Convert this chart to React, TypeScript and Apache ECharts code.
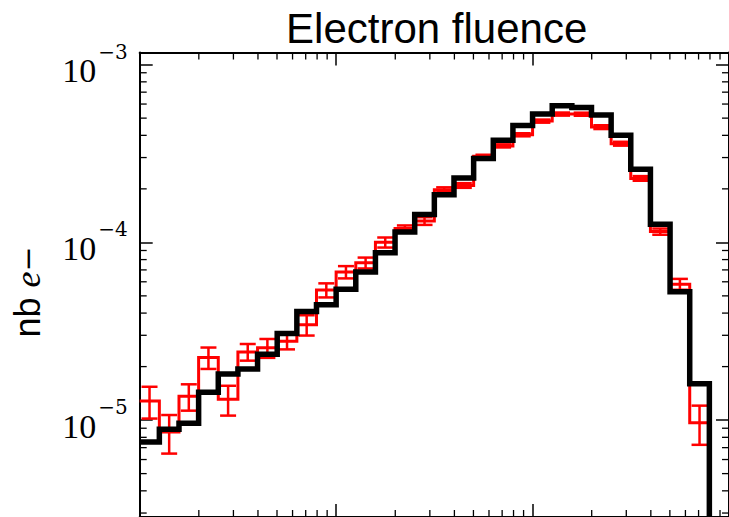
import React, { useEffect, useRef } from 'react';
import * as echarts from 'echarts';

// Logarithmic bin edges (10 bins per decade)
const binEdges = [
  0.01, 0.01259, 0.01585, 0.01995, 0.02512, 0.03162, 0.03981, 0.05012, 0.0631, 0.07943,
  0.1, 0.1259, 0.1585, 0.1995, 0.2512, 0.3162, 0.3981, 0.5012, 0.631, 0.7943,
  1, 1.259, 1.585, 1.995, 2.512, 3.162, 3.981, 5.012, 6.31, 7.943,
];

// Black histogram (simulation)
const blackValues = [
  7.52e-6, 8.87e-6, 9.59e-6, 1.436e-5, 1.816e-5, 1.937e-5, 2.35e-5, 3.07e-5, 4.08e-5, 4.45e-5,
  5.45e-5, 6.81e-5, 8.75e-5, 1.143e-4, 1.436e-4, 1.855e-4, 2.3e-4, 2.96e-4, 3.75e-4, 4.54e-4,
  5.27e-4, 5.86e-4, 5.74e-4, 5.21e-4, 4.0e-4, 2.58e-4, 1.264e-4, 5.27e-5, 1.6e-5,
];

// Red histogram (with statistical errors)
const redValues = [
  1.28e-5, 8.58e-6, 1.36e-5, 2.25e-5, 1.31e-5, 2.42e-5, 2.55e-5, 2.78e-5, 3.44e-5, 5.39e-5,
  6.81e-5, 7.67e-5, 1.0e-4, 1.197e-4, 1.32e-4, 1.98e-4, 2.09e-4, 3.05e-4, 3.49e-4, 4.03e-4,
  4.81e-4, 5.27e-4, 5.26e-4, 4.45e-4, 3.59e-4, 2.29e-4, 1.15e-4, 5.82e-5, 9.66e-6,
];
const redErrors = [
  2.6e-6, 2.1e-6, 2.3e-6, 3.1e-6, 2.5e-6, 2.6e-6, 3.1e-6, 2.8e-6, 4.5e-6, 4.9e-6,
  5.4e-6, 5.4e-6, 6.5e-6, 4.8e-6, 6.6e-6, 6.0e-6, 6.3e-6, 6.1e-6, 7.0e-6, 8.0e-6,
  9.6e-6, 1.05e-5, 1.05e-5, 1.1e-5, 9.0e-6, 6.9e-6, 4.6e-6, 4.1e-6, 2.4e-6,
];

const minorMultipliers = [2, 3, 4, 5, 6, 7, 8, 9];
const xDecades = [0.01, 0.1, 1];
const yDecades = [1e-6, 1e-5, 1e-4, 1e-3];

const X_MIN = 0.01;
const X_MAX = 10;
const Y_MIN = 2.85e-6;
const Y_MAX = 1.17e-3;

const TITLE = 'Electron fluence';

function stepPoints(vals: number[]) {
  const pts: number[][] = [];
  vals.forEach((v, i) => {
    pts.push([binEdges[i], v]);
    pts.push([binEdges[i + 1], v]);
  });
  return pts;
}

export default function App() {
  const ref = useRef<HTMLDivElement>(null);

  useEffect(() => {
    document.body.style.margin = '0';
    if (!ref.current) return;
    const chart = echarts.init(ref.current, null, { renderer: 'svg' });

    const blackPts = stepPoints(blackValues);
    blackPts.push([binEdges[binEdges.length - 1], 1e-8]);
    const redPts = stepPoints(redValues);

    const errData = redValues.map((v, i) => [
      Math.sqrt(binEdges[i] * binEdges[i + 1]),
      v,
      redErrors[i],
    ]);

    const xMinor: number[][] = [];
    xDecades.forEach((d) => minorMultipliers.forEach((m) => {
      const v = d * m;
      if (v > X_MIN && v < X_MAX) xMinor.push([v, Y_MIN]);
    }));
    const yMinor: number[][] = [];
    yDecades.forEach((d) => minorMultipliers.forEach((m) => {
      const v = d * m;
      if (v > Y_MIN && v < Y_MAX) yMinor.push([X_MIN, v]);
    }));

    const axisLine = { show: true, lineStyle: { color: '#000', width: 2 } };
    const axisTick = { show: true, inside: true, length: 13, lineStyle: { color: '#000', width: 1.5 } };

    const labelFmt = (v: number) => {
      const e = Math.round(Math.log10(v));
      return `{b|10}{s|${e < 0 ? '\u2212' : ''}${Math.abs(e)}}`;
    };

    const tickStyle = { stroke: '#000', lineWidth: 1.3 };

    chart.setOption({
      animation: false,
      backgroundColor: '#fff',
      grid: { left: 139.7, top: 52.5, width: 594, height: 471, containLabel: false },
      xAxis: [
        {
          type: 'log', logBase: 10, min: X_MIN, max: X_MAX, position: 'bottom',
          axisLine, axisTick, axisLabel: { show: false }, splitLine: { show: false },
        },
        {
          type: 'log', logBase: 10, min: X_MIN, max: X_MAX, position: 'top',
          axisLine, axisTick, axisLabel: { show: false }, splitLine: { show: false },
        },
      ],
      yAxis: [
        {
          type: 'log', logBase: 10, min: Y_MIN, max: Y_MAX, position: 'left',
          axisLine, axisTick, splitLine: { show: false },
          axisLabel: {
            show: true, margin: 12, showMinLabel: false, showMaxLabel: false,
            formatter: labelFmt,
            rich: {
              b: { fontFamily: 'Liberation Serif', fontSize: 34, color: '#000', lineHeight: 46, verticalAlign: 'bottom' },
              s: { fontFamily: 'DejaVu Serif', fontSize: 20, color: '#000', lineHeight: 32, verticalAlign: 'top', padding: [0, 0, 0, 2] },
            },
          },
        },
        {
          type: 'log', logBase: 10, min: Y_MIN, max: Y_MAX, position: 'right',
          axisLine, axisTick, axisLabel: { show: false }, splitLine: { show: false },
        },
      ],
      graphic: [
        {
          type: 'text', x: 436.7, y: 28, z: 10,
          style: {
            text: TITLE, fill: '#000', font: '42px "Liberation Sans"',
            textAlign: 'center', textVerticalAlign: 'middle',
          },
        },
        {
          type: 'text', x: 27.5, y: 292, rotation: Math.PI / 2, z: 10,
          style: {
            text: '{a|nb }{e|e}{m|\u2212}',
            textAlign: 'center', textVerticalAlign: 'middle',
            rich: {
              a: { fontFamily: 'Liberation Sans', fontSize: 36, fill: '#000' },
              e: { fontFamily: 'Liberation Serif', fontStyle: 'italic', fontSize: 36, fill: '#000' },
              m: { fontFamily: 'DejaVu Serif', fontSize: 30, fill: '#000' },
            },
          },
        },
      ],
      series: [
        {
          type: 'line', data: redPts, symbol: 'none', z: 2, clip: true,
          lineStyle: { color: '#ff0000', width: 3, join: 'miter' },
        },
        {
          type: 'custom', data: errData, z: 3, encode: { x: 0, y: 1 },
          renderItem: (params: any, api: any) => {
            const c = api.value(0);
            const v = api.value(1);
            const e = api.value(2);
            const hi = api.coord([c, v + e]);
            const lo = api.coord([c, v - e]);
            const cap = 8;
            const st = { stroke: '#ff0000', lineWidth: 2.5 };
            return {
              type: 'group',
              children: [
                { type: 'line', shape: { x1: hi[0], y1: hi[1], x2: lo[0], y2: lo[1] }, style: st },
                { type: 'line', shape: { x1: hi[0] - cap, y1: hi[1], x2: hi[0] + cap, y2: hi[1] }, style: st },
                { type: 'line', shape: { x1: lo[0] - cap, y1: lo[1], x2: lo[0] + cap, y2: lo[1] }, style: st },
              ],
            };
          },
        },
        {
          type: 'line', data: blackPts, symbol: 'none', z: 4, clip: true,
          lineStyle: { color: '#000', width: 5.5, join: 'miter' },
        },
        {
          type: 'custom', data: xMinor, z: 5, encode: { x: 0, y: 1 },
          renderItem: (params: any, api: any) => {
            const x = api.coord([api.value(0), Y_MIN])[0];
            const cs = params.coordSys;
            const top = cs.y;
            const bottom = cs.y + cs.height;
            return {
              type: 'group',
              children: [
                { type: 'line', shape: { x1: x, y1: top, x2: x, y2: top + 7 }, style: tickStyle },
                { type: 'line', shape: { x1: x, y1: bottom, x2: x, y2: bottom - 7 }, style: tickStyle },
              ],
            };
          },
        },
        {
          type: 'custom', data: yMinor, z: 5, encode: { x: 0, y: 1 },
          renderItem: (params: any, api: any) => {
            const y = api.coord([X_MIN, api.value(1)])[1];
            const cs = params.coordSys;
            const left = cs.x;
            const right = cs.x + cs.width;
            return {
              type: 'group',
              children: [
                { type: 'line', shape: { x1: left, y1: y, x2: left + 7, y2: y }, style: tickStyle },
                { type: 'line', shape: { x1: right, y1: y, x2: right - 7, y2: y }, style: tickStyle },
              ],
            };
          },
        },
      ],
    });

    return () => chart.dispose();
  }, []);

  return <div ref={ref} style={{ width: 729, height: 517 }} />;
}
